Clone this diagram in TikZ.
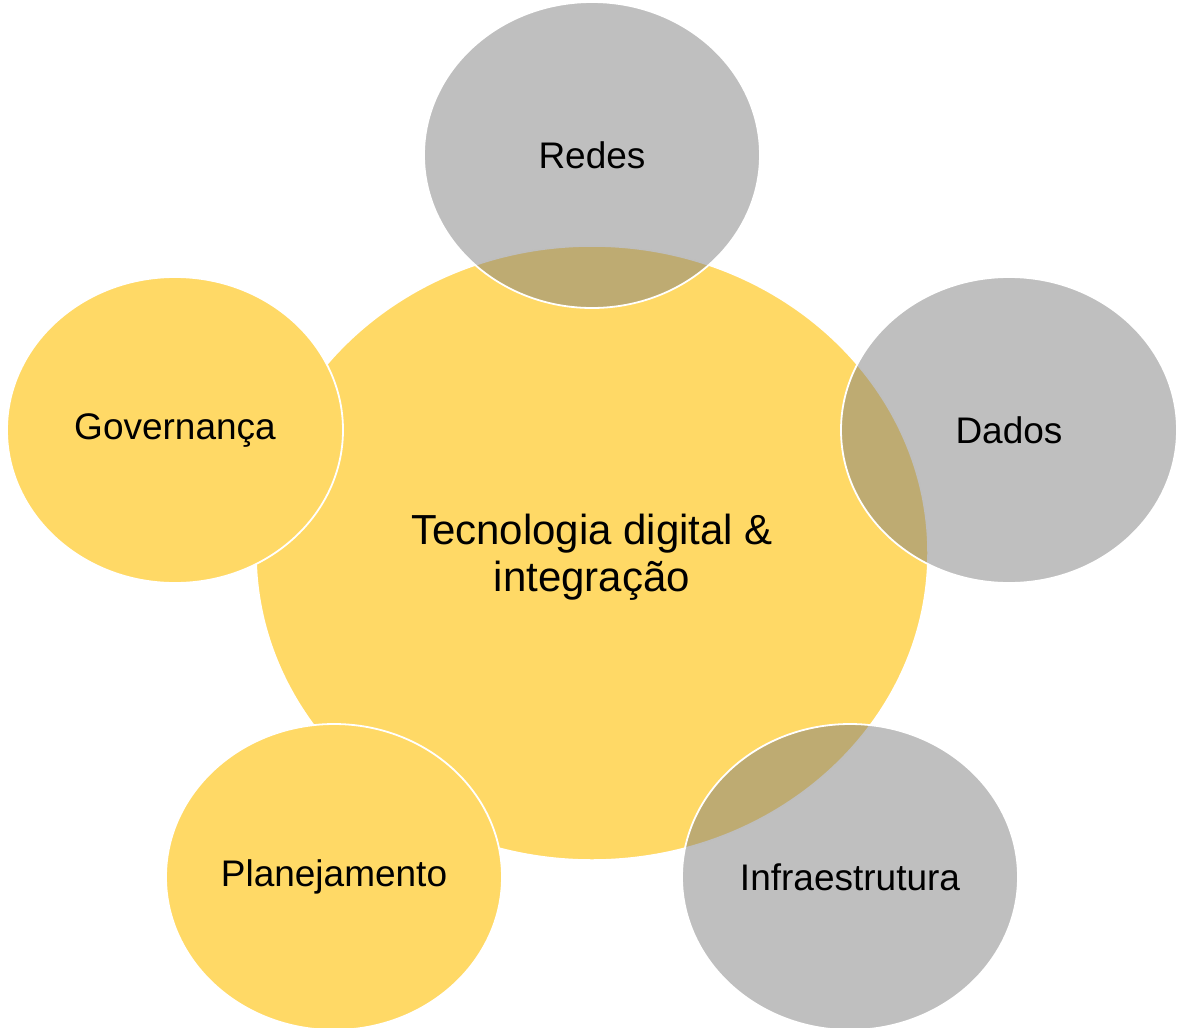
\documentclass[tikz,border=0pt]{standalone}
\usepackage{fontspec}
\setmainfont{Liberation Sans}
\usetikzlibrary{shapes.geometric}
\definecolor{ylw}{RGB}{255,217,102}
\definecolor{gry}{RGB}{127,127,127}
\tikzset{
  bigcirc/.style={ellipse, fill=ylw, draw=white, line width=1.5pt, minimum width=672pt, minimum height=614pt, inner sep=0pt, align=center, text height=77pt, text depth=0pt, font=\fontsize{42}{47}\selectfont},
  yball/.style={ellipse, fill=ylw, draw=white, line width=1.8pt, minimum width=336pt, minimum height=306pt, inner sep=0pt, font=\fontsize{37}{42}\selectfont},
  gball/.style={ellipse, fill=gry, fill opacity=0.5, draw=white, draw opacity=1, text opacity=1, line width=1.8pt, minimum width=336pt, minimum height=306pt, inner sep=0pt, font=\fontsize{37}{42}\selectfont}
}
\begin{document}
\begin{tikzpicture}[x=1pt,y=-1pt]
\useasboundingbox (0,0) rectangle (1178,1028);
\node[bigcirc] (c) at (592,553) {Tecnologia digital \&\\integração};
\node[gball] (redes) at (592,155) {Redes};
\node[gball] (dados) at (1009,430) {Dados};
\node[gball] (infra) at (850,877) {Infraestrutura};
\node[yball] (plan) at (334,877) {Planejamento};
\node[yball] (gov) at (175,430) {Governança};
\end{tikzpicture}
\end{document}
